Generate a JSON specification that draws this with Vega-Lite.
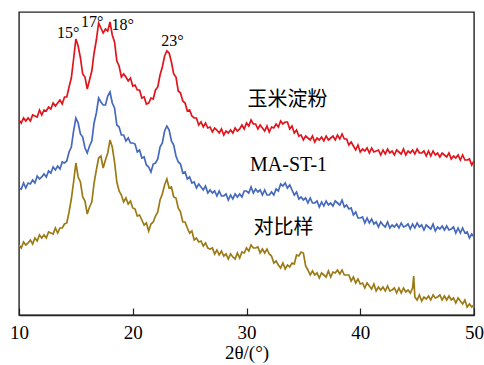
{
"$schema":"https://vega.github.io/schema/vega-lite/v6.json",
"autosize":{"type":"none"},
"width":455,"height":303,
"padding":{"left":19,"top":12,"right":10,"bottom":50},
"background":"white",
"config":{"font":"Liberation Serif","view":{"stroke":"#222","strokeWidth":1.4},"axis":{"labelFont":"Liberation Serif","titleFont":"Liberation Serif"},"text":{"font":"Liberation Serif"}},
"datasets":{
"corn":[{"x":10,"y":195},{"x":10.2,"y":192},{"x":10.4,"y":197},{"x":10.6,"y":194},{"x":10.8,"y":197},{"x":11,"y":194},{"x":11.2,"y":200},{"x":11.4,"y":199},{"x":11.6,"y":198},{"x":11.8,"y":205},{"x":12,"y":200},{"x":12.2,"y":205},{"x":12.4,"y":204},{"x":12.6,"y":208},{"x":12.8,"y":206},{"x":13,"y":212},{"x":13.2,"y":209},{"x":13.4,"y":212},{"x":13.6,"y":215},{"x":13.8,"y":211},{"x":14,"y":218},{"x":14.2,"y":218},{"x":14.4,"y":228},{"x":14.6,"y":237},{"x":14.8,"y":256},{"x":15,"y":276},{"x":15.2,"y":269},{"x":15.4,"y":257},{"x":15.6,"y":241},{"x":15.8,"y":238},{"x":16,"y":226},{"x":16.2,"y":235},{"x":16.4,"y":244},{"x":16.6,"y":262},{"x":16.8,"y":275},{"x":17,"y":292},{"x":17.2,"y":287},{"x":17.4,"y":282},{"x":17.6,"y":286},{"x":17.8,"y":284},{"x":18,"y":293},{"x":18.2,"y":280},{"x":18.4,"y":273},{"x":18.6,"y":254},{"x":18.8,"y":249},{"x":19,"y":238},{"x":19.2,"y":241},{"x":19.4,"y":238},{"x":19.6,"y":234},{"x":19.8,"y":237},{"x":20,"y":229},{"x":20.2,"y":230},{"x":20.4,"y":225},{"x":20.6,"y":225},{"x":20.8,"y":217},{"x":21,"y":218},{"x":21.2,"y":211},{"x":21.4,"y":212},{"x":21.6,"y":217},{"x":21.8,"y":216},{"x":22,"y":225},{"x":22.2,"y":228},{"x":22.4,"y":240},{"x":22.6,"y":248},{"x":22.8,"y":259},{"x":23,"y":264},{"x":23.2,"y":262},{"x":23.4,"y":253},{"x":23.6,"y":241},{"x":23.8,"y":238},{"x":24,"y":224},{"x":24.2,"y":222},{"x":24.4,"y":214},{"x":24.6,"y":212},{"x":24.8,"y":204},{"x":25,"y":205},{"x":25.2,"y":199},{"x":25.4,"y":197},{"x":25.6,"y":197},{"x":25.8,"y":190},{"x":26,"y":193},{"x":26.2,"y":188},{"x":26.4,"y":192},{"x":26.6,"y":187},{"x":26.8,"y":188},{"x":27,"y":183},{"x":27.2,"y":187},{"x":27.4,"y":185},{"x":27.6,"y":182},{"x":27.8,"y":186},{"x":28,"y":180},{"x":28.2,"y":184},{"x":28.4,"y":182},{"x":28.6,"y":185},{"x":28.8,"y":182},{"x":29,"y":187},{"x":29.2,"y":184},{"x":29.4,"y":186},{"x":29.6,"y":190},{"x":29.8,"y":186},{"x":30,"y":192},{"x":30.2,"y":189},{"x":30.4,"y":195},{"x":30.6,"y":191},{"x":30.8,"y":191},{"x":31,"y":186},{"x":31.2,"y":190},{"x":31.4,"y":187},{"x":31.6,"y":184},{"x":31.8,"y":189},{"x":32,"y":183},{"x":32.2,"y":188},{"x":32.4,"y":187},{"x":32.6,"y":191},{"x":32.8,"y":188},{"x":33,"y":194},{"x":33.2,"y":191},{"x":33.4,"y":193},{"x":33.6,"y":193},{"x":33.8,"y":186},{"x":34,"y":189},{"x":34.2,"y":182},{"x":34.4,"y":185},{"x":34.6,"y":179},{"x":34.8,"y":180},{"x":35,"y":175},{"x":35.2,"y":179},{"x":35.4,"y":177},{"x":35.6,"y":175},{"x":35.8,"y":179},{"x":36,"y":173},{"x":36.2,"y":177},{"x":36.4,"y":175},{"x":36.6,"y":178},{"x":36.8,"y":174},{"x":37,"y":179},{"x":37.2,"y":175},{"x":37.4,"y":177},{"x":37.6,"y":179},{"x":37.8,"y":175},{"x":38,"y":180},{"x":38.2,"y":176},{"x":38.4,"y":181},{"x":38.6,"y":176},{"x":38.8,"y":176},{"x":39,"y":170},{"x":39.2,"y":173},{"x":39.4,"y":169},{"x":39.6,"y":165},{"x":39.8,"y":170},{"x":40,"y":163},{"x":40.2,"y":166},{"x":40.4,"y":164},{"x":40.6,"y":167},{"x":40.8,"y":162},{"x":41,"y":167},{"x":41.2,"y":163},{"x":41.4,"y":164},{"x":41.6,"y":165},{"x":41.8,"y":160},{"x":42,"y":165},{"x":42.2,"y":161},{"x":42.4,"y":166},{"x":42.6,"y":162},{"x":42.8,"y":164},{"x":43,"y":160},{"x":43.2,"y":165},{"x":43.4,"y":163},{"x":43.6,"y":161},{"x":43.8,"y":166},{"x":44,"y":160},{"x":44.2,"y":164},{"x":44.4,"y":162},{"x":44.6,"y":165},{"x":44.8,"y":161},{"x":45,"y":166},{"x":45.2,"y":162},{"x":45.4,"y":162},{"x":45.6,"y":164},{"x":45.8,"y":159},{"x":46,"y":164},{"x":46.2,"y":159},{"x":46.4,"y":164},{"x":46.6,"y":160},{"x":46.8,"y":162},{"x":47,"y":158},{"x":47.2,"y":162},{"x":47.4,"y":160},{"x":47.6,"y":158},{"x":47.8,"y":162},{"x":48,"y":156},{"x":48.2,"y":159},{"x":48.4,"y":157},{"x":48.6,"y":160},{"x":48.8,"y":155},{"x":49,"y":160},{"x":49.2,"y":155},{"x":49.4,"y":155},{"x":49.6,"y":156},{"x":49.8,"y":150},{"x":50,"y":154}],
"ma":[{"x":10,"y":127},{"x":10.2,"y":126},{"x":10.4,"y":132},{"x":10.6,"y":127},{"x":10.8,"y":132},{"x":11,"y":131},{"x":11.2,"y":135},{"x":11.4,"y":132},{"x":11.6,"y":139},{"x":11.8,"y":136},{"x":12,"y":138},{"x":12.2,"y":141},{"x":12.4,"y":138},{"x":12.6,"y":144},{"x":12.8,"y":142},{"x":13,"y":148},{"x":13.2,"y":145},{"x":13.4,"y":149},{"x":13.6,"y":146},{"x":13.8,"y":153},{"x":14,"y":152},{"x":14.2,"y":154},{"x":14.4,"y":163},{"x":14.6,"y":168},{"x":14.8,"y":184},{"x":15,"y":197},{"x":15.2,"y":192},{"x":15.4,"y":181},{"x":15.6,"y":178},{"x":15.8,"y":167},{"x":16,"y":162},{"x":16.2,"y":169},{"x":16.4,"y":174},{"x":16.6,"y":192},{"x":16.8,"y":202},{"x":17,"y":217},{"x":17.2,"y":213},{"x":17.4,"y":210},{"x":17.6,"y":210},{"x":17.8,"y":219},{"x":18,"y":223},{"x":18.2,"y":212},{"x":18.4,"y":207},{"x":18.6,"y":190},{"x":18.8,"y":188},{"x":19,"y":180},{"x":19.2,"y":180},{"x":19.4,"y":174},{"x":19.6,"y":177},{"x":19.8,"y":172},{"x":20,"y":172},{"x":20.2,"y":171},{"x":20.4,"y":163},{"x":20.6,"y":165},{"x":20.8,"y":157},{"x":21,"y":158},{"x":21.2,"y":150},{"x":21.4,"y":148},{"x":21.6,"y":143},{"x":21.8,"y":151},{"x":22,"y":152},{"x":22.2,"y":156},{"x":22.4,"y":168},{"x":22.6,"y":172},{"x":22.8,"y":184},{"x":23,"y":189},{"x":23.2,"y":185},{"x":23.4,"y":174},{"x":23.6,"y":170},{"x":23.8,"y":159},{"x":24,"y":153},{"x":24.2,"y":151},{"x":24.4,"y":142},{"x":24.6,"y":143},{"x":24.8,"y":136},{"x":25,"y":138},{"x":25.2,"y":132},{"x":25.4,"y":133},{"x":25.6,"y":127},{"x":25.8,"y":131},{"x":26,"y":128},{"x":26.2,"y":125},{"x":26.4,"y":129},{"x":26.6,"y":122},{"x":26.8,"y":125},{"x":27,"y":122},{"x":27.2,"y":124},{"x":27.4,"y":119},{"x":27.6,"y":124},{"x":27.8,"y":119},{"x":28,"y":119},{"x":28.2,"y":121},{"x":28.4,"y":115},{"x":28.6,"y":120},{"x":28.8,"y":116},{"x":29,"y":121},{"x":29.2,"y":118},{"x":29.4,"y":121},{"x":29.6,"y":118},{"x":29.8,"y":124},{"x":30,"y":124},{"x":30.2,"y":122},{"x":30.4,"y":128},{"x":30.6,"y":122},{"x":30.8,"y":126},{"x":31,"y":123},{"x":31.2,"y":125},{"x":31.4,"y":120},{"x":31.6,"y":125},{"x":31.8,"y":120},{"x":32,"y":120},{"x":32.2,"y":123},{"x":32.4,"y":120},{"x":32.6,"y":126},{"x":32.8,"y":124},{"x":33,"y":131},{"x":33.2,"y":129},{"x":33.4,"y":132},{"x":33.6,"y":127},{"x":33.8,"y":130},{"x":34,"y":125},{"x":34.2,"y":120},{"x":34.4,"y":123},{"x":34.6,"y":116},{"x":34.8,"y":118},{"x":35,"y":115},{"x":35.2,"y":117},{"x":35.4,"y":112},{"x":35.6,"y":117},{"x":35.8,"y":112},{"x":36,"y":112},{"x":36.2,"y":114},{"x":36.4,"y":108},{"x":36.6,"y":113},{"x":36.8,"y":109},{"x":37,"y":114},{"x":37.2,"y":110},{"x":37.4,"y":112},{"x":37.6,"y":109},{"x":37.8,"y":114},{"x":38,"y":112},{"x":38.2,"y":110},{"x":38.4,"y":115},{"x":38.6,"y":108},{"x":38.8,"y":110},{"x":39,"y":106},{"x":39.2,"y":107},{"x":39.4,"y":100},{"x":39.6,"y":103},{"x":39.8,"y":97},{"x":40,"y":97},{"x":40.2,"y":98},{"x":40.4,"y":92},{"x":40.6,"y":97},{"x":40.8,"y":92},{"x":41,"y":96},{"x":41.2,"y":91},{"x":41.4,"y":93},{"x":41.6,"y":88},{"x":41.8,"y":93},{"x":42,"y":90},{"x":42.2,"y":88},{"x":42.4,"y":93},{"x":42.6,"y":87},{"x":42.8,"y":90},{"x":43,"y":88},{"x":43.2,"y":91},{"x":43.4,"y":87},{"x":43.6,"y":92},{"x":43.8,"y":88},{"x":44,"y":89},{"x":44.2,"y":91},{"x":44.4,"y":86},{"x":44.6,"y":91},{"x":44.8,"y":87},{"x":45,"y":92},{"x":45.2,"y":88},{"x":45.4,"y":90},{"x":45.6,"y":85},{"x":45.8,"y":90},{"x":46,"y":88},{"x":46.2,"y":86},{"x":46.4,"y":91},{"x":46.6,"y":84},{"x":46.8,"y":88},{"x":47,"y":86},{"x":47.2,"y":89},{"x":47.4,"y":85},{"x":47.6,"y":89},{"x":47.8,"y":85},{"x":48,"y":86},{"x":48.2,"y":88},{"x":48.4,"y":82},{"x":48.6,"y":87},{"x":48.8,"y":82},{"x":49,"y":87},{"x":49.2,"y":82},{"x":49.4,"y":83},{"x":49.6,"y":77},{"x":49.8,"y":81},{"x":50,"y":78}],
"ref":[{"x":10,"y":70},{"x":10.2,"y":67},{"x":10.4,"y":73},{"x":10.6,"y":70},{"x":10.8,"y":72},{"x":11,"y":75},{"x":11.2,"y":71},{"x":11.4,"y":77},{"x":11.6,"y":74},{"x":11.8,"y":80},{"x":12,"y":77},{"x":12.2,"y":80},{"x":12.4,"y":77},{"x":12.6,"y":83},{"x":12.8,"y":82},{"x":13,"y":81},{"x":13.2,"y":87},{"x":13.4,"y":82},{"x":13.6,"y":87},{"x":13.8,"y":87},{"x":14,"y":91},{"x":14.2,"y":92},{"x":14.4,"y":103},{"x":14.6,"y":116},{"x":14.8,"y":133},{"x":15,"y":152},{"x":15.2,"y":138},{"x":15.4,"y":133},{"x":15.6,"y":118},{"x":15.8,"y":114},{"x":16,"y":101},{"x":16.2,"y":108},{"x":16.4,"y":113},{"x":16.6,"y":132},{"x":16.8,"y":145},{"x":17,"y":157},{"x":17.2,"y":159},{"x":17.4,"y":147},{"x":17.6,"y":155},{"x":17.8,"y":162},{"x":18,"y":175},{"x":18.2,"y":168},{"x":18.4,"y":153},{"x":18.6,"y":133},{"x":18.8,"y":124},{"x":19,"y":120},{"x":19.2,"y":113},{"x":19.4,"y":117},{"x":19.6,"y":111},{"x":19.8,"y":114},{"x":20,"y":107},{"x":20.2,"y":106},{"x":20.4,"y":99},{"x":20.6,"y":100},{"x":20.8,"y":95},{"x":21,"y":90},{"x":21.2,"y":92},{"x":21.4,"y":84},{"x":21.6,"y":91},{"x":21.8,"y":93},{"x":22,"y":99},{"x":22.2,"y":103},{"x":22.4,"y":115},{"x":22.6,"y":121},{"x":22.8,"y":130},{"x":23,"y":136},{"x":23.2,"y":127},{"x":23.4,"y":128},{"x":23.6,"y":118},{"x":23.8,"y":117},{"x":24,"y":107},{"x":24.2,"y":103},{"x":24.4,"y":93},{"x":24.6,"y":93},{"x":24.8,"y":87},{"x":25,"y":82},{"x":25.2,"y":84},{"x":25.4,"y":75},{"x":25.6,"y":77},{"x":25.8,"y":73},{"x":26,"y":74},{"x":26.2,"y":69},{"x":26.4,"y":72},{"x":26.6,"y":67},{"x":26.8,"y":66},{"x":27,"y":67},{"x":27.2,"y":61},{"x":27.4,"y":65},{"x":27.6,"y":60},{"x":27.8,"y":64},{"x":28,"y":59},{"x":28.2,"y":61},{"x":28.4,"y":56},{"x":28.6,"y":61},{"x":28.8,"y":58},{"x":29,"y":56},{"x":29.2,"y":62},{"x":29.4,"y":57},{"x":29.6,"y":63},{"x":29.8,"y":62},{"x":30,"y":67},{"x":30.2,"y":64},{"x":30.4,"y":70},{"x":30.6,"y":67},{"x":30.8,"y":67},{"x":31,"y":68},{"x":31.2,"y":62},{"x":31.4,"y":66},{"x":31.6,"y":62},{"x":31.8,"y":66},{"x":32,"y":61},{"x":32.2,"y":59},{"x":32.4,"y":52},{"x":32.6,"y":54},{"x":32.8,"y":50},{"x":33,"y":47},{"x":33.2,"y":52},{"x":33.4,"y":46},{"x":33.6,"y":50},{"x":33.8,"y":48},{"x":34,"y":52},{"x":34.2,"y":51},{"x":34.4,"y":60},{"x":34.6,"y":59},{"x":34.8,"y":63},{"x":35,"y":62},{"x":35.2,"y":49},{"x":35.4,"y":45},{"x":35.6,"y":40},{"x":35.8,"y":44},{"x":36,"y":40},{"x":36.2,"y":42},{"x":36.4,"y":37},{"x":36.6,"y":42},{"x":36.8,"y":40},{"x":37,"y":38},{"x":37.2,"y":44},{"x":37.4,"y":38},{"x":37.6,"y":43},{"x":37.8,"y":42},{"x":38,"y":45},{"x":38.2,"y":41},{"x":38.4,"y":45},{"x":38.6,"y":40},{"x":38.8,"y":40},{"x":39,"y":40},{"x":39.2,"y":34},{"x":39.4,"y":38},{"x":39.6,"y":32},{"x":39.8,"y":36},{"x":40,"y":31},{"x":40.2,"y":32},{"x":40.4,"y":27},{"x":40.6,"y":32},{"x":40.8,"y":29},{"x":41,"y":26},{"x":41.2,"y":31},{"x":41.4,"y":24},{"x":41.6,"y":28},{"x":41.8,"y":25},{"x":42,"y":28},{"x":42.2,"y":24},{"x":42.4,"y":29},{"x":42.6,"y":24},{"x":42.8,"y":25},{"x":43,"y":27},{"x":43.2,"y":22},{"x":43.4,"y":27},{"x":43.6,"y":22},{"x":43.8,"y":27},{"x":44,"y":23},{"x":44.2,"y":25},{"x":44.4,"y":22},{"x":44.6,"y":27},{"x":44.7,"y":39},{"x":44.8,"y":18},{"x":45,"y":15},{"x":45.2,"y":20},{"x":45.4,"y":14},{"x":45.6,"y":18},{"x":45.8,"y":16},{"x":46,"y":19},{"x":46.2,"y":15},{"x":46.4,"y":20},{"x":46.6,"y":17},{"x":46.8,"y":18},{"x":47,"y":20},{"x":47.2,"y":15},{"x":47.4,"y":19},{"x":47.6,"y":15},{"x":47.8,"y":19},{"x":48,"y":15},{"x":48.2,"y":17},{"x":48.4,"y":12},{"x":48.6,"y":17},{"x":48.8,"y":14},{"x":49,"y":11},{"x":49.2,"y":15},{"x":49.4,"y":8},{"x":49.6,"y":11},{"x":49.8,"y":8},{"x":50,"y":10}]
},
"encoding":{
"x":{"field":"x","type":"quantitative","scale":{"domain":[10,50],"nice":false,"zero":false},
"axis":{"values":[10,20,30,40,50],"title":"2θ/(°)","grid":false,"tickSize":-7,"labelPadding":15,"tickColor":"#222","tickWidth":1.2,"domainColor":"#222","domainWidth":1.5,"labelFont":"Liberation Serif","labelFontSize":19,"labelColor":"black","labelFlush":false,"titleFont":"Liberation Serif","titleFontSize":19,"titleFontWeight":"normal","titleColor":"black","titlePadding":1}},
"y":{"field":"y","type":"quantitative","scale":{"domain":[0,303],"nice":false,"zero":false},"axis":null}
},
"layer":[
{"data":{"name":"corn"},"mark":{"type":"line","color":"#e0141c","strokeWidth":1.7}},
{"data":{"name":"ma"},"mark":{"type":"line","color":"#4569bd","strokeWidth":1.7}},
{"data":{"name":"ref"},"mark":{"type":"line","color":"#9b7a16","strokeWidth":1.7}},
{"data":{"values":[{"x":14.32,"y":282,"t":"15°"},{"x":16.43,"y":293,"t":"17°"},{"x":19.12,"y":290,"t":"18°"},{"x":23.48,"y":274,"t":"23°"}]},
 "mark":{"type":"text","font":"Liberation Serif","fontSize":16,"color":"black","baseline":"middle","align":"center"},
 "encoding":{"text":{"field":"t"}}},
{"data":{"values":[{"x":33.7,"y":150,"t":"MA-ST-1"}]},
 "mark":{"type":"text","font":"Liberation Serif","fontSize":20,"color":"black","baseline":"middle","align":"center"},
 "encoding":{"text":{"field":"t"}}},
{"data":{"values":[{"x":33.61,"y":215,"t":"玉米淀粉"},{"x":33.26,"y":87,"t":"对比样"}]},
 "mark":{"type":"text","font":"Noto Sans CJK SC","fontSize":20,"color":"black","baseline":"middle","align":"center"},
 "encoding":{"text":{"field":"t"}}}
]
}
